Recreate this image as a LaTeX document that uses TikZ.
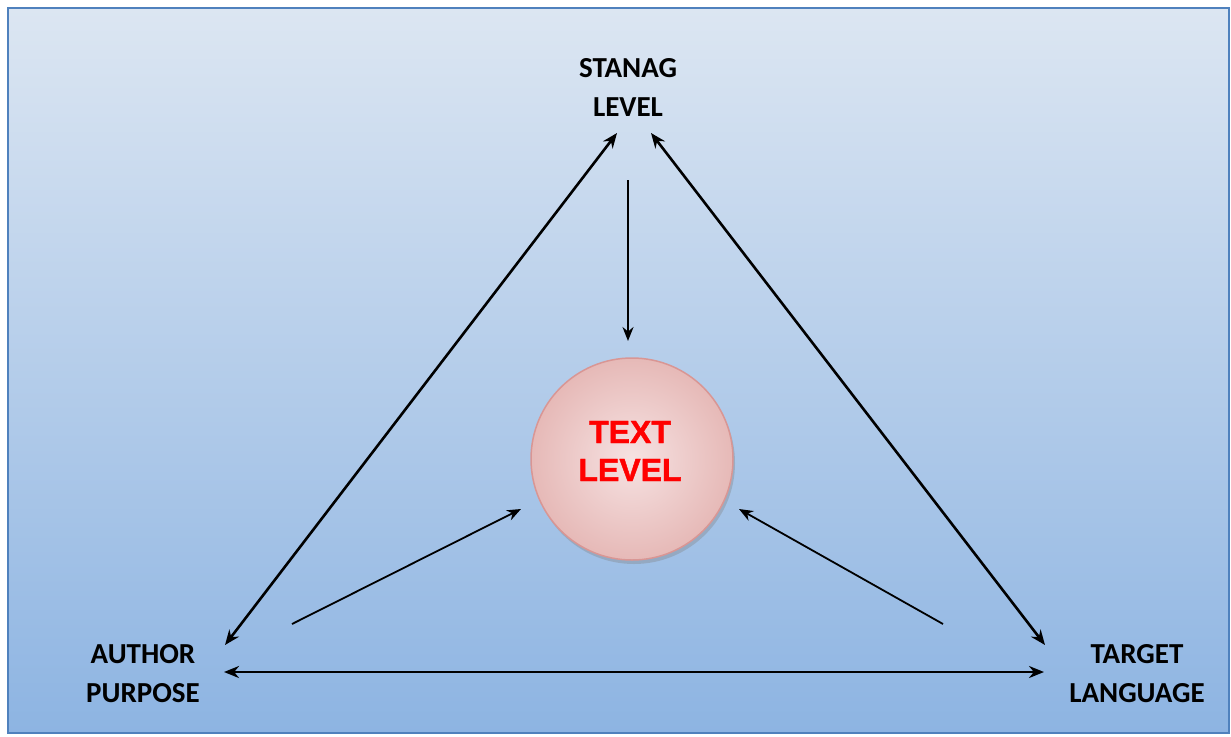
\documentclass[tikz,border=0pt]{standalone}
\usepackage{fontspec}
\setmainfont{Carlito}
\newfontfamily\redfont{Liberation Sans}[BoldFeatures={FakeBold=1.3}]
\usetikzlibrary{arrows.meta,shadows}
\definecolor{bgtop}{HTML}{DCE6F2}
\definecolor{bgbot}{HTML}{8DB4E2}
\definecolor{frame}{HTML}{4F81BD}
\definecolor{pinkin}{HTML}{F6E2E2}
\definecolor{pinkout}{HTML}{E6B9B7}
\definecolor{pinkedge}{HTML}{D99694}
\tikzset{
  lbl/.style={font=\fontsize{29}{39}\selectfont\bfseries, align=center, text=black},
  biconn/.style={line width=2.6pt, {Stealth[length=15pt,width=12pt]}-{Stealth[length=15pt,width=12pt]}},
  thin conn/.style={line width=1.8pt, -{Stealth[length=14pt,width=11pt]}},
}
\begin{document}
\begin{tikzpicture}[x=1pt,y=-1pt]
\useasboundingbox (0,0) rectangle (1231,736);
\shade[top color=bgtop, bottom color=bgbot] (8,8) rectangle (1229,733);
\draw[frame, line width=2.2pt] (8,8) rectangle (1229,733);

\node[lbl] (stanag) at (628,87) {STANAG\\LEVEL};
\node[lbl] (author) at (143,674) {AUTHOR\\PURPOSE};
\node[lbl] (target) at (1137,674) {TARGET\\LANGUAGE};

\node[circle, minimum size=202pt, inner sep=0pt, draw=pinkedge, line width=1.5pt,
  inner color=pinkin, outer color=pinkout,
  drop shadow={shadow xshift=2pt, shadow yshift=-4pt, opacity=0.35}] (circ) at (632,459) {};
\node[font=\redfont\fontsize{32}{38}\selectfont\bfseries, text=red, align=center] (txt) at (630,451) {TEXT\\LEVEL};

\coordinate (sL) at (617,133);
\coordinate (sR) at (651,133);
\coordinate (aT) at (225,645);
\coordinate (aB) at (224,672);
\coordinate (tT) at (1045,645);
\coordinate (tB) at (1044,672);
\coordinate (vS) at (628,180);
\coordinate (vE) at (628,341);
\coordinate (lS) at (292,624);
\coordinate (lE) at (521,509);
\coordinate (rS) at (943,624);
\coordinate (rE) at (739,509);

\draw[biconn] (sL) -- (aT);
\draw[biconn] (sR) -- (tT);
\draw[biconn] (aB) -- (tB);
\draw[thin conn] (vS) -- (vE);
\draw[thin conn] (lS) -- (lE);
\draw[thin conn] (rS) -- (rE);
\end{tikzpicture}
\end{document}
